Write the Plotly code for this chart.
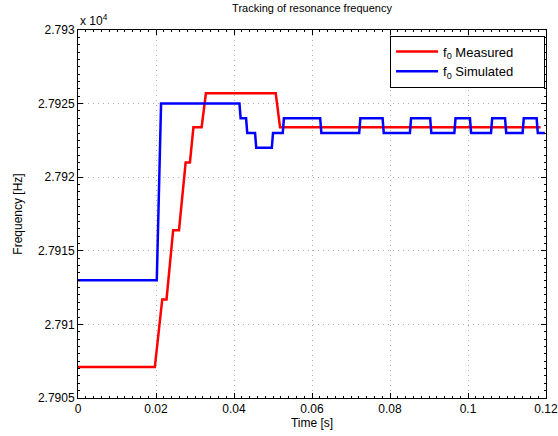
import plotly.graph_objects as go

# Measured f0 (Hz) vs time (s)
t_meas = [0, 0.0197, 0.0216, 0.0227, 0.0244, 0.0259, 0.0276, 0.0287, 0.0296, 0.0317,
          0.0328, 0.0507, 0.0518, 0.1186]
f_meas = [27907.1, 27907.1, 27911.7, 27911.7, 27916.4, 27916.4, 27921.0, 27921.0,
          27923.4, 27923.4, 27925.7, 27925.7, 27923.4, 27923.4]

# Simulated f0 (Hz) vs time (s)
t_sim = [0, 0.0202, 0.0213, 0.0414, 0.0417, 0.0431, 0.0434, 0.0454, 0.0457, 0.0497,
         0.0500, 0.0525, 0.0528, 0.0621, 0.0624, 0.0721, 0.0724, 0.0781, 0.0784,
         0.0851, 0.0854, 0.0903, 0.0906, 0.0965, 0.0968, 0.1005, 0.1008, 0.1059,
         0.1062, 0.1095, 0.1098, 0.1140, 0.1143, 0.1176, 0.1179, 0.1197]
f_sim = [27913, 27913, 27925, 27925, 27924, 27924, 27923, 27923, 27922, 27922,
         27923, 27923, 27924, 27924, 27923, 27923, 27924, 27924, 27923,
         27923, 27924, 27924, 27923, 27923, 27924, 27924, 27923, 27923,
         27924, 27924, 27923, 27923, 27924, 27924, 27923, 27923]

y_ticks = [27905, 27910, 27915, 27920, 27925, 27930]
y_labels = ["2.7905", "2.791", "2.7915", "2.792", "2.7925", "2.793"]
x_ticks = [0, 0.02, 0.04, 0.06, 0.08, 0.1, 0.12]
x_labels = ["0", "0.02", "0.04", "0.06", "0.08", "0.1", "0.12"]

pad = "&nbsp;" * 7  # MATLAB legend leaves space right of the text

fig = go.Figure()
fig.add_trace(go.Scatter(x=t_meas, y=f_meas, mode="lines", name="f<sub>0</sub> Measured" + pad,
                         line=dict(color="#ff0000", width=2.5)))
fig.add_trace(go.Scatter(x=t_sim, y=f_sim, mode="lines", name="f<sub>0</sub> Simulated" + pad,
                         line=dict(color="#0000ff", width=2.5)))

axis_common = dict(
    showline=True, linecolor="black", linewidth=1, mirror="ticks",
    ticks="inside", ticklen=5, tickcolor="black",
    showgrid=True, gridcolor="#b0b0b0", griddash="1px,4px", gridwidth=1,
    zeroline=False, tickfont=dict(size=12, color="black"), automargin=False,
    ticklabeloverflow="allow",
)

fig.update_xaxes(range=[0, 0.12], tickvals=x_ticks, ticktext=x_labels,
                 title=dict(text="Time [s]", font=dict(size=12), standoff=2),
                 minor=dict(ticks="inside", ticklen=2, dtick=0.002, tickcolor="black", showgrid=False),
                 **axis_common)
fig.update_yaxes(range=[27905, 27930], tickvals=y_ticks, ticktext=y_labels,
                 title=dict(text="Frequency [Hz]", font=dict(size=12), standoff=12),
                 minor=dict(ticks="inside", ticklen=2, dtick=0.5, tickcolor="black", showgrid=False),
                 **axis_common)

fig.update_layout(
    width=558, height=436,
    margin=dict(l=78, r=12, t=30, b=38),
    paper_bgcolor="white", plot_bgcolor="white",
    font=dict(family="Liberation Sans, Arial, sans-serif", color="black"),
    title=dict(text="Tracking of resonance frequency", x=0.5, xref="paper",
               y=1, yref="container", yanchor="top", pad=dict(t=4),
               font=dict(size=11)),
    legend=dict(x=0.998, y=0.985, xanchor="right", yanchor="top",
                bordercolor="black", borderwidth=1, bgcolor="white",
                font=dict(size=13), tracegroupgap=0, itemwidth=42),
    showlegend=True,
    annotations=[dict(text="x 10<sup>4</sup>", xref="paper", yref="paper", x=0, y=1,
                      xanchor="left", yanchor="bottom", showarrow=False,
                      font=dict(size=12), yshift=0)],
)

# browser default body margin would shift the figure by 8px
fig.write_html("out.html", config={"displayModeBar": False},
               post_script="document.body.style.margin='0';")
